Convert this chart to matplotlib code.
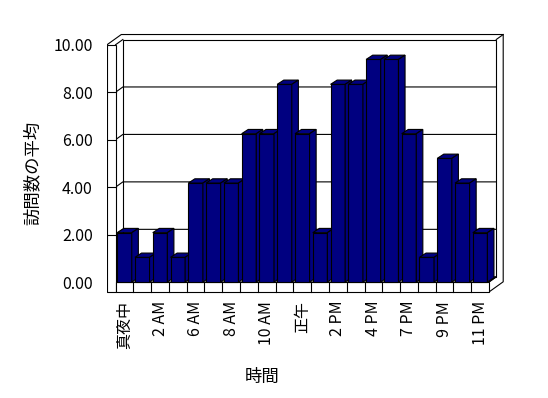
import numpy as np
import matplotlib
matplotlib.use('Agg')
import matplotlib.pyplot as plt
from matplotlib.patches import Polygon, Rectangle

plt.rcParams['font.family'] = ['Noto Sans CJK JP', 'DejaVu Sans']

# datos
horas = ['真夜中', '1 AM', '2 AM', '5 AM', '6 AM', '7 AM', '8 AM', '9 AM', '10 AM', '11 AM', '正午',
         '1 PM', '2 PM', '3 PM', '4 PM', '5 PM', '7 PM', '8 PM', '9 PM', '10 PM', '11 PM']
promedio = [2.08, 1.04, 2.08, 1.04, 4.17, 4.17, 4.17, 6.25, 6.25, 8.33, 6.25,
            2.08, 8.33, 8.33, 9.38, 9.38, 6.25, 1.04, 5.21, 4.17, 2.08]
yticks = [0, 2, 4, 6, 8, 10]

navy = '#000080'
lw = 0.8
n = len(horas)
x = np.arange(n)

fig = plt.figure(figsize=(5.48, 3.98), dpi=100)
ax = fig.add_axes([0.1947, 0.2616, 0.7268, 0.6618])
ax.set_xlim(-1.0, 21.4)
ax.set_ylim(-0.5, 10.6)
for s in ax.spines.values():
    s.set_visible(False)

# profundidades (pared interior, pared exterior, barras)
d1x, d1y = 0.41, 0.22
d2x, d2y = 0.80, 0.43
dbx, dby = 0.37, 0.18
x0, x1 = -0.5, n - 0.5
wl = -0.98      # borde izquierdo de la pared
fb = -0.42      # fondo del piso
top = yticks[-1]

# silueta de la caja
caja = [(wl, fb), (wl, top), (wl + d2x, top + d2y), (x1 + d2x, top + d2y),
        (x1 + d2x, fb + d2y), (x1, fb)]
ax.add_patch(Polygon(caja, closed=True, fc='white', ec='black', lw=lw, zorder=1))
# pared del fondo
ax.add_patch(Rectangle((x0 + d1x, d1y), x1 - x0, top, fc='white', ec='black', lw=lw, zorder=2))
ax.plot([x1 + d1x, x1 + d2x], [top + d1y, top + d2y], color='black', lw=lw, zorder=2)
ax.plot([x0, x0 + d1x], [top, top + d1y], color='black', lw=lw, zorder=2)
# pared izquierda
ax.add_patch(Rectangle((wl, fb), x0 - wl, top - fb, fc='white', ec='black', lw=lw, zorder=3))
# piso
ax.add_patch(Polygon([(x0, 0), (x1, 0), (x1 + d1x, d1y), (x0 + d1x, d1y)], closed=True,
                     fc='white', ec='black', lw=lw, zorder=2))
ax.add_patch(Rectangle((x0, fb), x1 - x0, -fb, fc='white', ec='black', lw=lw, zorder=3))
for xi in x[:-1] + 0.5:
    ax.plot([xi, xi], [fb, 0], color='black', lw=lw, zorder=3)
ax.plot([x1, x1 + d1x], [0, d1y], color='black', lw=lw, zorder=3)

# lineas de cuadricula
for v in yticks[1:-1]:
    ax.plot([wl, x0, x0 + d1x, x1 + d1x], [v, v, v + d1y, v + d1y], color='black', lw=lw, zorder=2.5)
    ax.plot([wl, x0], [v, v], color='black', lw=lw, zorder=3.5)

# barras
w = 0.82
barras = ax.bar(x, promedio, width=w, color=navy, edgecolor='black', linewidth=lw)
for i, (b, v) in enumerate(zip(barras, promedio)):
    b.set_zorder(10 + i)
    l, r = i - w / 2, i + w / 2
    tapa = [(l, v), (r, v), (r + dbx, v + dby), (l + dbx, v + dby)]
    lado = [(r, 0), (r, v), (r + dbx, v + dby), (r + dbx, dby)]
    ax.add_patch(Polygon(tapa, closed=True, fc=navy, ec='black', lw=lw, zorder=10 + i + 0.1))
    ax.add_patch(Polygon(lado, closed=True, fc=navy, ec='black', lw=lw, zorder=10 + i + 0.1))

ax.set_yticks(yticks)
ax.set_yticklabels(['%.2f' % v for v in yticks])
ax.set_xticks(x[::2])
ax.set_xticklabels(horas[::2], rotation=90)
ax.tick_params(axis='y', length=0, pad=10, labelsize=11.5)
ax.tick_params(axis='x', length=0, pad=5, labelsize=11.5)

ax.set_xlabel('時間', fontsize=12.5)
ax.set_ylabel('訪問数の平均', fontsize=12.5)
ax.xaxis.set_label_coords(0.39, -0.28)
ax.yaxis.set_label_coords(-0.163, 0.46)

plt.savefig('out.png', dpi=100)
